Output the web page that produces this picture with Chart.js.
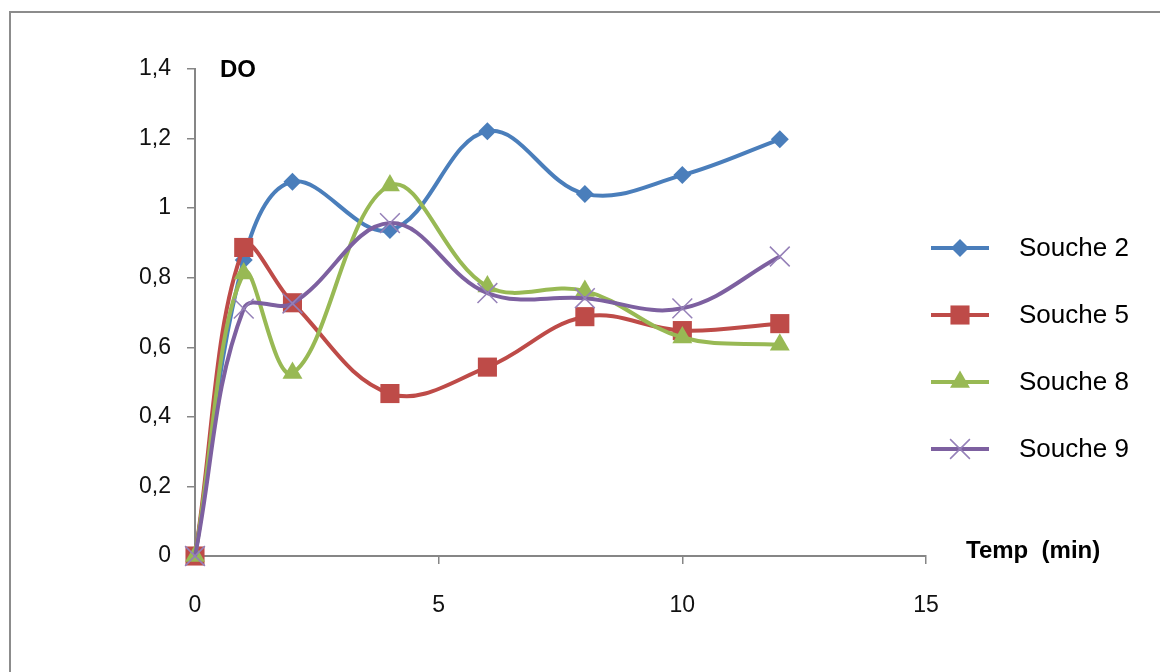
<!DOCTYPE html>
<html>
<head>
<meta charset="utf-8">
<script src="https://cdn.jsdelivr.net/npm/chart.js@4"></script>
<style>
  html, body { margin: 0; padding: 0; background: #fff; overflow: hidden; }
  #wrap { position: relative; width: 1160px; height: 672px; }
</style>
</head>
<body>
<div id="wrap"><canvas id="graph" width="1160" height="672"></canvas></div>
<script>
// temps de mesure (min)
var temps = [0, 1, 2, 4, 6, 8, 10, 12];

var souche2 = [0, 0.851, 1.076, 0.937, 1.221, 1.041, 1.095, 1.198];
var souche5 = [0, 0.887, 0.728, 0.467, 0.543, 0.688, 0.648, 0.668];
var souche8 = [0, 0.812, 0.526, 1.065, 0.775, 0.762, 0.628, 0.607];
var souche9 = [0, 0.711, 0.726, 0.957, 0.756, 0.741, 0.712, 0.861];

var noms = ["Souche 2", "Souche 5", "Souche 8", "Souche 9"];
var couleurs = ["#4a7ebb", "#be4b48", "#98b954", "#7d60a0"];
var formes = ["rectRot", "rect", "triangle", "crossRot"];
var tailles = [9, 13.5, 11.5, 14];

var xTicks = [0, 5, 10, 15];

function points(vals) {
  var out = [];
  for (let i = 0; i < temps.length; i++) {
    out.push({x: temps[i], y: vals[i]});
  }
  return out;
}

var series = [souche2, souche5, souche8, souche9];
var datasets = [];
for (let i = 0; i < series.length; i++) {
  var croix = formes[i] == "crossRot";
  datasets.push({
    label: noms[i],
    data: points(series[i]),
    borderColor: couleurs[i],
    backgroundColor: couleurs[i],
    pointBackgroundColor: couleurs[i],
    pointBorderColor: croix ? "#9580b8" : couleurs[i],
    pointBorderWidth: croix ? 1.5 : 0,
    pointStyle: formes[i],
    pointRadius: tailles[i],
    borderWidth: 4,
    tension: 0.38,
    fill: false,
    clip: false,
    order: series.length - i
  });
}

const axisFont = {family: "'Liberation Sans', Arial, sans-serif", size: 23};

// cadre, titres des axes et légende
const decor = {
  id: "decor",
  beforeDraw(chart) {
    const ctx = chart.ctx;
    ctx.save();
    ctx.strokeStyle = "#8c8c8c";
    ctx.lineWidth = 2;
    ctx.strokeRect(10, 12, 1200, 720);
    ctx.restore();
  },
  afterDraw(chart) {
    const ctx = chart.ctx;
    const area = chart.chartArea;
    ctx.save();
    ctx.fillStyle = "#000";
    ctx.textBaseline = "middle";
    ctx.font = "bold 24px 'Liberation Sans', Arial, sans-serif";
    ctx.fillText("DO", area.left + 25, area.top + 1);
    ctx.fillText("Temp  (min)", area.right + 40, area.bottom - 5);

    var ly = 248;
    chart.data.datasets.forEach(function (ds, i) {
      var y = ly + i * 67;
      ctx.strokeStyle = ds.borderColor;
      ctx.lineWidth = 4;
      ctx.beginPath();
      ctx.moveTo(931, y);
      ctx.lineTo(989, y);
      ctx.stroke();
      ctx.fillStyle = ds.pointBackgroundColor;
      ctx.strokeStyle = ds.pointBorderColor;
      ctx.lineWidth = ds.pointBorderWidth;
      Chart.helpers.drawPoint(ctx, {pointStyle: ds.pointStyle, radius: ds.pointRadius, borderWidth: ds.pointBorderWidth}, 960, y);
      ctx.fillStyle = "#000";
      ctx.font = "26px 'Liberation Sans', Arial, sans-serif";
      ctx.fillText(ds.label, 1019, y + 1);
    });
    ctx.restore();
  }
};

new Chart("graph", {
  type: "line",
  data: {datasets: datasets},
  options: {
    responsive: false,
    animation: false,
    layout: {padding: {left: 135, top: 69, right: 234, bottom: 56}},
    plugins: {legend: {display: false}, tooltip: {enabled: false}},
    scales: {
      x: {
        type: "linear",
        min: 0,
        max: 15,
        afterBuildTicks(scale) { scale.ticks = xTicks.map(v => ({value: v})); },
        afterFit(scale) { scale.height = 60; },
        border: {display: true, color: "#868686", width: 2},
        grid: {drawOnChartArea: false, drawTicks: true, tickLength: 8, color: "#868686", lineWidth: 1.5},
        ticks: {color: "#111", font: axisFont, padding: 28, maxRotation: 0}
      },
      y: {
        min: 0,
        max: 1.4,
        ticks: {
          stepSize: 0.2,
          color: "#111",
          font: axisFont,
          padding: 16,
          callback: function (v) { return String(Math.round(v * 10) / 10).replace(".", ","); }
        },
        afterFit(scale) { scale.width = 60; },
        border: {display: true, color: "#868686", width: 2},
        grid: {drawOnChartArea: false, drawTicks: true, tickLength: 8, color: "#868686", lineWidth: 1.5}
      }
    }
  },
  plugins: [decor]
});
</script>
</body>
</html>
